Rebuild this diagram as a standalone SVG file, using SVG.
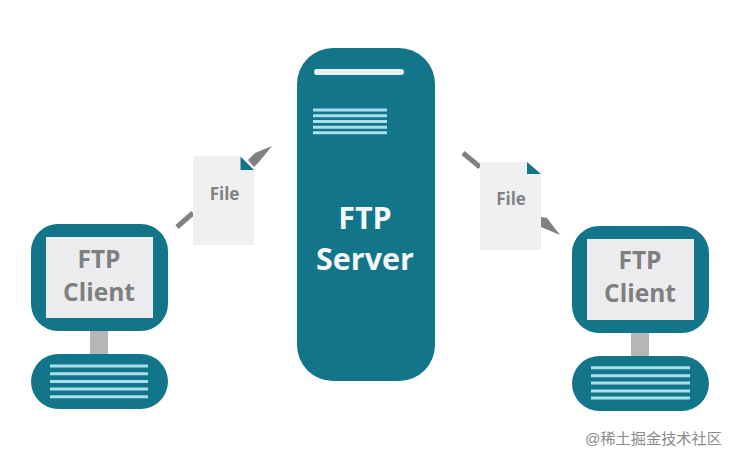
<svg xmlns="http://www.w3.org/2000/svg" width="738" height="462" viewBox="0 0 738 462">
<style>
.teal{fill:#12758a}
.screen{fill:#ececef}
.stem{fill:#b4b6b8}
.paper{fill:#eff0f2}
.needle{fill:#7f8182}
.rule{stroke:#a9e0ec;stroke-width:3;fill:none}
.bar{stroke:#e4f3f6;stroke-width:6;stroke-linecap:round;fill:none}
.stroke{stroke:#7f8182;stroke-width:5;fill:none}
text{font-family:"Open Sans","Noto Sans",sans-serif;font-weight:700;text-anchor:middle}
.label{font-size:24.500px;fill:#7d7f80}
.file{font-size:17px;fill:#808283}
.server{font-size:30.500px;fill:#f4f8f9}
.mark{font-family:"Liberation Sans","Noto Sans CJK SC",sans-serif;font-weight:400;font-size:15.2px;fill:#8a8a8a;text-anchor:start}
</style>
<rect width="738" height="462" fill="#ffffff"/>
<g id="connectors">
<path class="stroke" d="M177 227L193 213"/>
<path class="needle" d="M272 146L255 153L248 160L254 167L259 162Z"/>
<path class="stroke" d="M463 153L480 167"/>
<path class="needle" d="M541 217L547 218L560 235L541 227Z"/>
</g>
<g id="server">
<rect class="teal" x="297" y="48" width="138" height="333" rx="36"/>
<path class="bar" d="M317 72H401"/>
<path class="rule" d="M313 110H387M313 115.7H387M313 121.4H387M313 127.2H387M313 132.8H387"/>
<text class="server" x="365" y="229">FTP</text>
<text class="server" x="365" y="270">Server</text>
</g>
<g id="client-left">
<rect class="stem" x="90" y="330" width="18" height="25"/>
<rect class="teal" x="31" y="224" width="137" height="107" rx="27"/>
<rect class="screen" x="46" y="237" width="107" height="81"/>
<text class="label" x="99" y="268">FTP</text>
<text class="label" x="99" y="301">Client</text>
<rect class="teal" x="31" y="354" width="137" height="55" rx="27.5"/>
<path class="rule" d="M50 366H148M50 373.7H148M50 381.6H148M50 389H148M50 396.7H148"/>
</g>
<g id="client-right">
<rect class="stem" x="631" y="332" width="18" height="25"/>
<rect class="teal" x="572" y="226" width="137" height="107" rx="27"/>
<rect class="screen" x="587" y="239" width="107" height="81"/>
<text class="label" x="640" y="269">FTP</text>
<text class="label" x="640" y="302">Client</text>
<rect class="teal" x="572" y="356" width="137" height="55" rx="27.5"/>
<path class="rule" d="M591 367.7H690M591 375.7H690M591 383H690M591 391H690M591 398H690"/>
</g>
<g id="file-left">
<path class="paper" d="M193 156H240L254 170V245H193Z"/>
<path class="teal" d="M240.500 156.500V170H254Z"/>
<text class="file" x="224.500" y="200">File</text>
</g>
<g id="file-right">
<path class="paper" d="M480 162H527L541 174V250H480Z"/>
<path class="teal" d="M527 162V174H541Z"/>
<text class="file" x="511" y="205">File</text>
</g>
<text class="mark" x="585" y="444">@稀土掘金技术社区</text>
</svg>
